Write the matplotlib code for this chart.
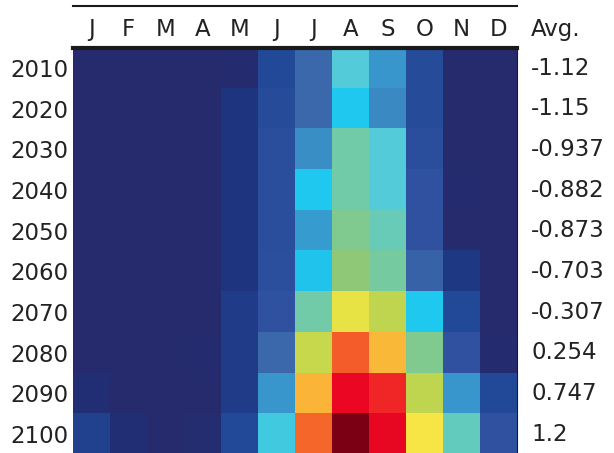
import matplotlib.pyplot as plt
import numpy as np
from matplotlib.colors import LinearSegmentedColormap
from matplotlib.lines import Line2D
from matplotlib.transforms import offset_copy

months = ["J", "F", "M", "A", "M", "J", "J", "A", "S", "O", "N", "D"]
decades = ["2010", "2020", "2030", "2040", "2050", "2060", "2070", "2080", "2090", "2100"]
averages = ["-1.12", "-1.15", "-0.937", "-0.882", "-0.873", "-0.703", "-0.307", "0.254", "0.747", "1.2"]

# scaled monthly values (0 = coldest colour, 1 = darkest red)
row_2010 = [0, 0, 0, 0, 0.01, 0.10, 0.20, 0.40, 0.27, 0.11, 0, 0]
row_2020 = [0, 0, 0, 0, 0.05, 0.11, 0.20, 0.34, 0.25, 0.11, 0, 0]
row_2030 = [0, 0, 0, 0, 0.05, 0.13, 0.26, 0.46, 0.40, 0.13, 0, 0]
row_2040 = [0, 0, 0, 0, 0.05, 0.13, 0.34, 0.46, 0.40, 0.15, 0.01, 0]
row_2050 = [0, 0, 0, 0, 0.05, 0.13, 0.28, 0.49, 0.44, 0.15, 0, 0]
row_2060 = [0, 0, 0, 0, 0.05, 0.14, 0.335, 0.52, 0.47, 0.19, 0.06, 0]
row_2070 = [0, 0, 0, 0, 0.07, 0.15, 0.46, 0.64, 0.58, 0.34, 0.10, 0]
row_2080 = [0, 0, 0, 0.01, 0.07, 0.20, 0.59, 0.78, 0.70, 0.49, 0.15, 0.01]
row_2090 = [0.02, 0, 0, 0, 0.07, 0.27, 0.705, 0.86, 0.83, 0.58, 0.27, 0.10]
row_2100 = [0.08, 0.02, 0, 0.015, 0.10, 0.38, 0.77, 1.0, 0.865, 0.66, 0.43, 0.15]

values = np.array([row_2010, row_2020, row_2030, row_2040, row_2050,
                   row_2060, row_2070, row_2080, row_2090, row_2100])

cmap = LinearSegmentedColormap.from_list("heat", [
    (0.00, "#252b6c"), (0.05, "#1f3580"), (0.10, "#234a98"), (0.15, "#3052a0"),
    (0.20, "#3a68aa"), (0.27, "#3a96cc"), (0.34, "#1ec8ef"), (0.40, "#53cbd8"),
    (0.46, "#72cba8"), (0.52, "#8ec878"), (0.58, "#bfd550"), (0.64, "#e8e445"),
    (0.66, "#f9e645"), (0.70, "#fbbb3a"), (0.78, "#f55e2a"), (0.86, "#ee0824"),
    (1.00, "#7c0014"),
])

fs = 16.5
txt = "#222222"

fig = plt.figure(figsize=(6.14, 4.53), dpi=100)
ax = fig.add_axes([0.1194, -0.003, 0.7231, 0.8976])

ax.imshow(values, cmap=cmap, vmin=0, vmax=1, aspect="auto", interpolation="nearest")

ax.xaxis.tick_top()
ax.set_xticks(range(12))
ax.set_xticklabels(months, fontsize=fs, color=txt)
ax.set_yticks(range(10))
ax.set_yticklabels(decades, fontsize=fs, color=txt)
ax.tick_params(length=0)
ax.tick_params(axis="y", pad=3.5)
ax.tick_params(axis="x", pad=5)

for i, a in enumerate(averages):
    ax.text(1.031, i, a, transform=ax.get_yaxis_transform(), fontsize=fs,
            color=txt, ha="left", va="center")
ax.text(1.031, 1.0, "Avg.", transform=offset_copy(ax.transAxes, fig=fig, y=5, units="points"),
        fontsize=fs, color=txt, ha="left", va="bottom")

ax.spines["top"].set_linewidth(3)
ax.spines["top"].set_color("#1a1a1a")
ax.spines["left"].set_visible(False)
for s in ["right", "bottom"]:
    ax.spines[s].set_linewidth(0.8)
    ax.spines[s].set_color("#1a1a2a")

fig.add_artist(Line2D([0.1194, 0.8425], [0.9857, 0.9857], transform=fig.transFigure,
                      color="#1a1a1a", linewidth=1.5))

fig.savefig("out.png", dpi=100)
